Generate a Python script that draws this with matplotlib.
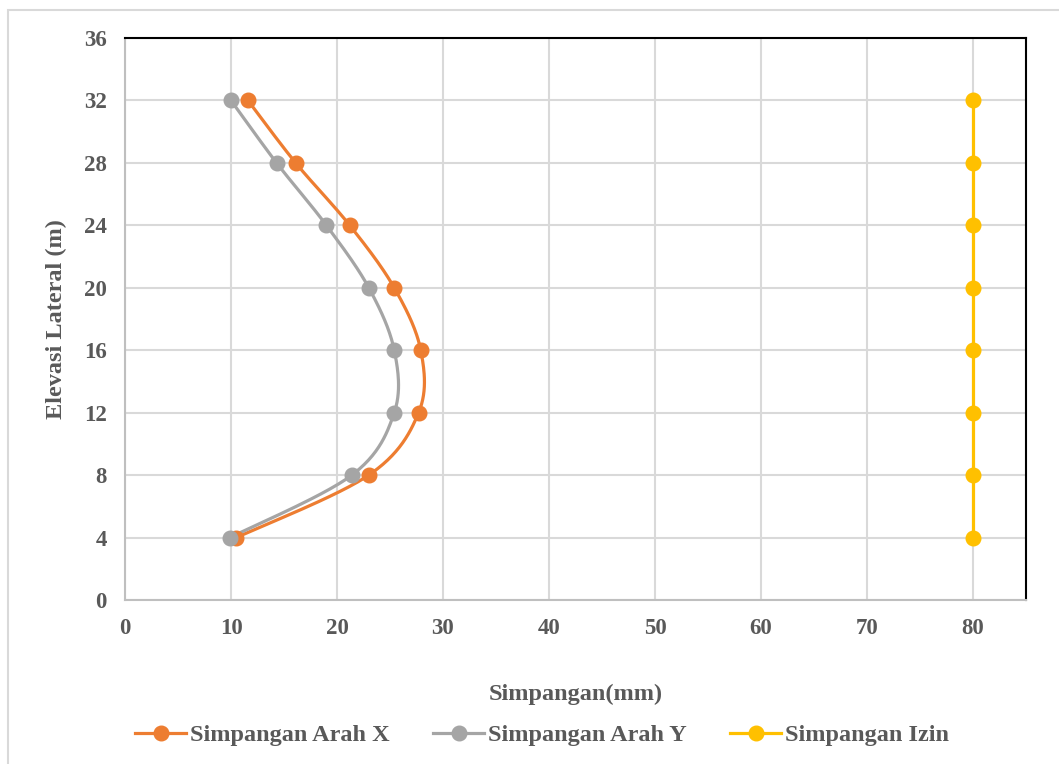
import numpy as np
import matplotlib.pyplot as plt
from matplotlib.patches import Rectangle

elevasi = [32, 28, 24, 20, 16, 12, 8, 4]
arah_x = [11.6, 16.1, 21.2, 25.4, 27.9, 27.7, 23.0, 10.5]
arah_y = [10.0, 14.3, 19.0, 23.0, 25.4, 25.4, 21.4, 9.9]
izin = [80, 80, 80, 80, 80, 80, 80, 80]

x_ticks = [0, 10, 20, 30, 40, 50, 60, 70, 80]
y_ticks = [0, 4, 8, 12, 16, 20, 24, 28, 32, 36]


def smooth(xs, ys, n=30):
    # catmull-rom, like excel's smoothed line
    p = np.column_stack([xs, ys]).astype(float)
    p = np.vstack([p[0], p, p[-1]])
    out = []
    for i in range(1, len(p) - 2):
        p0, p1, p2, p3 = p[i - 1], p[i], p[i + 1], p[i + 2]
        t = np.linspace(0, 1, n)[:, None]
        c1 = p1 + (p2 - p0) / 6
        c2 = p2 - (p3 - p1) / 6
        seg = ((1 - t) ** 3) * p1 + 3 * ((1 - t) ** 2) * t * c1 + 3 * (1 - t) * t ** 2 * c2 + t ** 3 * p2
        out.append(seg)
    out = np.vstack(out)
    return out[:, 0], out[:, 1]


plt.rcParams['font.family'] = ['Liberation Serif', 'DejaVu Serif']
plt.rcParams['font.weight'] = 'bold'

fig = plt.figure(figsize=(10.59, 7.64), dpi=100)
ax = fig.add_axes([125 / 1059, 1 - 600 / 764, (1026 - 125) / 1059, (600 - 38) / 764])

# chart area border (right/bottom edges fall outside the picture)
fig.patches.append(Rectangle((8 / 1059, -20 / 764), 1100 / 1059, 774 / 764, transform=fig.transFigure,
                             fill=False, edgecolor='#D9D9D9', linewidth=1.5))

orange = '#ED7D31'
grey = '#A5A5A5'
yellow = '#FFC000'

for xs, col, lab in [(arah_x, orange, 'Simpangan Arah X'),
                     (arah_y, grey, 'Simpangan Arah Y'),
                     (izin, yellow, 'Simpangan Izin')]:
    sx, sy = smooth(xs, elevasi)
    ax.plot(sx, sy, color=col, linewidth=2.3, zorder=3)
    ax.plot(xs, elevasi, 'o', color=col, markersize=10.5, zorder=4)
    ax.plot([], [], '-o', color=col, linewidth=2.3, markersize=10.5, label=lab)

ax.set_xlim(0, 85)
ax.set_ylim(0, 36)
ax.set_xticks(x_ticks)
ax.set_yticks(y_ticks)
ax.grid(True, color='#D9D9D9', linewidth=1.5)
ax.set_axisbelow(True)

for s in ['top', 'right']:
    ax.spines[s].set_color('black')
    ax.spines[s].set_linewidth(1.5)
for s in ['left', 'bottom']:
    ax.spines[s].set_color('#BFBFBF')
    ax.spines[s].set_linewidth(1.5)

ax.tick_params(length=0, labelsize=16.5, labelcolor='#595959', pad=13)
for lbl in ax.get_xticklabels() + ax.get_yticklabels():
    lbl.set_fontweight('bold')

ax.set_xlabel('Simpangan(mm)', fontsize=17.5, fontweight='bold', color='#595959', labelpad=32)
ax.set_ylabel('Elevasi Lateral (m)', fontsize=17.5, fontweight='bold', color='#595959', labelpad=12)

leg = fig.legend(loc='center', bbox_to_anchor=(542 / 1059, 1 - 735 / 764), ncol=3, frameon=False,
                 prop={'size': 17.5, 'weight': 'bold'}, handlelength=2.1, handletextpad=0.15,
                 columnspacing=1.8)
for t in leg.get_texts():
    t.set_color('#595959')

fig.savefig('out.png', dpi=100)
